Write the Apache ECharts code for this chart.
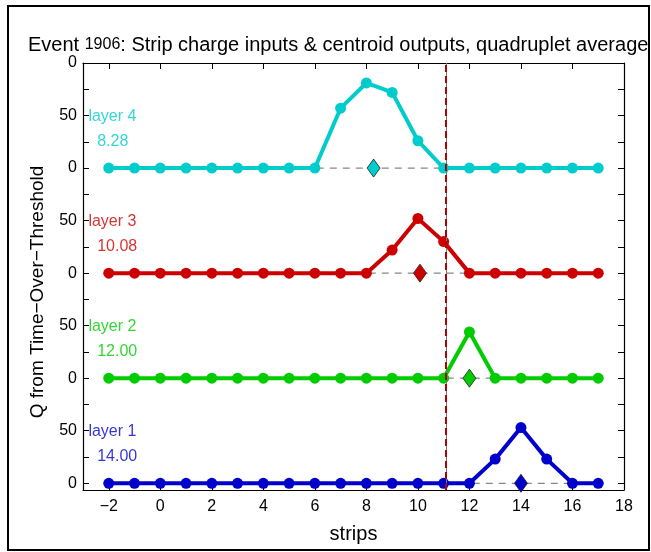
<!DOCTYPE html>
<html>
<head>
<meta charset="utf-8">
<script src="https://cdn.jsdelivr.net/npm/echarts@6/dist/echarts.min.js"></script>
<style>html,body{margin:0;padding:0;background:#fff}#c{width:651px;height:552px}</style>
</head>
<body>
<div id="c"></div>
<script>
// ---- data ----
const strips = [-2,-1,0,1,2,3,4,5,6,7,8,9,10,11,12,13,14,15,16,17];
const layer1 = [0,0,0,0,0,0,0,0,0,0,0,0,0,0,0,23,53,23,0,0];
const layer2 = [0,0,0,0,0,0,0,0,0,0,0,0,0,0,44,0,0,0,0,0];
const layer3 = [0,0,0,0,0,0,0,0,0,0,0,22,52,30,0,0,0,0,0,0];
const layer4 = [0,0,0,0,0,0,0,0,0,57,81,72,26,0,0,0,0,0,0,0];
const layerNames = ['layer 1','layer 2','layer 3','layer 4'];
const centroids = [14.00, 12.00, 10.08, 8.28];
const quadAverage = 11.09;
const xTicks = [-2,0,2,4,6,8,10,12,14,16,18];
const yTickLabels = [0,50,100,150,200,250,300,350,400];
const yMinorTicks = [0,25,50,75,100,125,150,175,200,225,250,275,300,325,350,375,400];
const titleMain = 'Event ';
const titleNum = '1906';
const titleRest = ': Strip charge inputs & centroid outputs, quadruplet average';
const xName = 'strips';
const yName = 'Q from Time\u2212Over\u2212Threshold';

// ---- style ----
const colors = ['#0000CC','#00CC00','#CC0000','#00CCCC'];
const layers = [layer1, layer2, layer3, layer4];
const layerStep = 100;
const FONT = 'Liberation Sans, Arial, sans-serif';

const chart = echarts.init(document.getElementById('c'), null, {renderer:'canvas'});
const series = [];

layers.forEach((vals, k) => {
  const off = k * layerStep;
  // gray dashed baseline
  series.push({
    type:'line', xAxisIndex:0, yAxisIndex:0, silent:true, z:1,
    symbol:'none',
    lineStyle:{color:'#888', width:1.2, type:[7,6]},
    data:[[strips[0], off],[strips[strips.length-1], off]]
  });
  // charge line
  series.push({
    type:'line', xAxisIndex:0, yAxisIndex:0, z:3,
    symbol:'circle', symbolSize:11,
    itemStyle:{color:colors[k]},
    lineStyle:{color:colors[k], width:4},
    data: strips.map((s,i)=>[s, vals[i] + off])
  });
  // centroid diamond
  series.push({
    type:'scatter', xAxisIndex:0, yAxisIndex:0, z:5,
    symbol:'diamond', symbolSize:[13,18],
    itemStyle:{color:colors[k], borderColor:'#222', borderWidth:0.8, opacity:1},
    data:[[centroids[k], off]]
  });
  // labels
  series.push({
    type:'scatter', xAxisIndex:0, yAxisIndex:0, z:6, silent:true,
    symbolSize:0,
    label:{show:true, position:'right', distance:0, color:colors[k], fontFamily:FONT, fontSize:16,
      formatter: p => p.data[2]},
    data:[[-2.79, off+49, layerNames[k]], [-2.45, off+25, centroids[k].toFixed(2)]]
  });
});

// vertical quadruplet average line
series.push({
  type:'line', xAxisIndex:0, yAxisIndex:0, z:4, data:[], symbol:'none',
  markLine:{
    silent:true, symbol:'none', label:{show:false},
    data:[
      {xAxis:quadAverage, lineStyle:{color:'#777', width:1, type:'solid'}},
      {xAxis:quadAverage, lineStyle:{color:'#B00000', width:2, type:[7,4]}}
    ]
  }
});

const fmtMinus = v => String(v).replace('-', '\u2212');

chart.setOption({
  animation:false,
  backgroundColor:'#fff',
  textStyle:{fontFamily:FONT},
  grid:{left:83, right:27, top:63, bottom:62, containLabel:false},
  title:{
    text:'{a|' + titleMain + '}{b|' + titleNum + '}{a|' + titleRest + '}',
    left:28, top:35, padding:0,
    textStyle:{fontWeight:'normal', rich:{
      a:{fontFamily:FONT, fontSize:20, fontWeight:'normal', color:'#000'},
      b:{fontFamily:FONT, fontSize:16, fontWeight:'normal', color:'#000'}
    }}
  },
  xAxis:[{
    type:'value', min:-3, max:18, position:'bottom',
    axisLine:{show:true, onZero:false, lineStyle:{color:'#000', width:1.2}},
    axisTick:{show:true, inside:true, length:6, customValues:xTicks, lineStyle:{color:'#000'}},
    axisLabel:{customValues:xTicks, color:'#000', fontSize:16, fontFamily:FONT, margin:9, formatter:fmtMinus},
    splitLine:{show:false},
    name:xName, nameLocation:'middle', nameGap:34,
    nameTextStyle:{fontSize:20, color:'#000', fontFamily:FONT}
  },{
    type:'value', min:-3, max:18, position:'top',
    axisLine:{show:true, onZero:false, lineStyle:{color:'#000', width:1.2}},
    axisTick:{show:true, inside:true, length:6, customValues:xTicks, lineStyle:{color:'#000'}},
    axisLabel:{show:false}, splitLine:{show:false}
  }],
  yAxis:[{
    type:'value', min:-6.4, max:400, position:'left',
    axisLine:{show:true, onZero:false, lineStyle:{color:'#000', width:1.2}},
    axisTick:{show:true, inside:true, length:6, customValues:yMinorTicks, lineStyle:{color:'#000'}},
    axisLabel:{customValues:yTickLabels, color:'#000', fontSize:16, fontFamily:FONT, margin:6,
      formatter: v => String(Math.round(v) % layerStep)},
    splitLine:{show:false}
  },{
    type:'value', min:-6.4, max:400, position:'right',
    axisLine:{show:true, onZero:false, lineStyle:{color:'#000', width:1.2}},
    axisTick:{show:true, inside:true, length:6, customValues:yMinorTicks, lineStyle:{color:'#000'}},
    axisLabel:{show:false}, splitLine:{show:false}
  }],
  graphic:[
    {type:'rect', shape:{x:8, y:6, width:641, height:544}, silent:true, z:-1,
     style:{fill:null, stroke:'#000', lineWidth:2}},
    {type:'text', x:38, y:292, rotation:Math.PI/2, silent:true,
     style:{text:yName, fontSize:19, fontFamily:FONT, fill:'#000', align:'center', verticalAlign:'middle'}}
  ],
  series: series
});
</script>
</body>
</html>
